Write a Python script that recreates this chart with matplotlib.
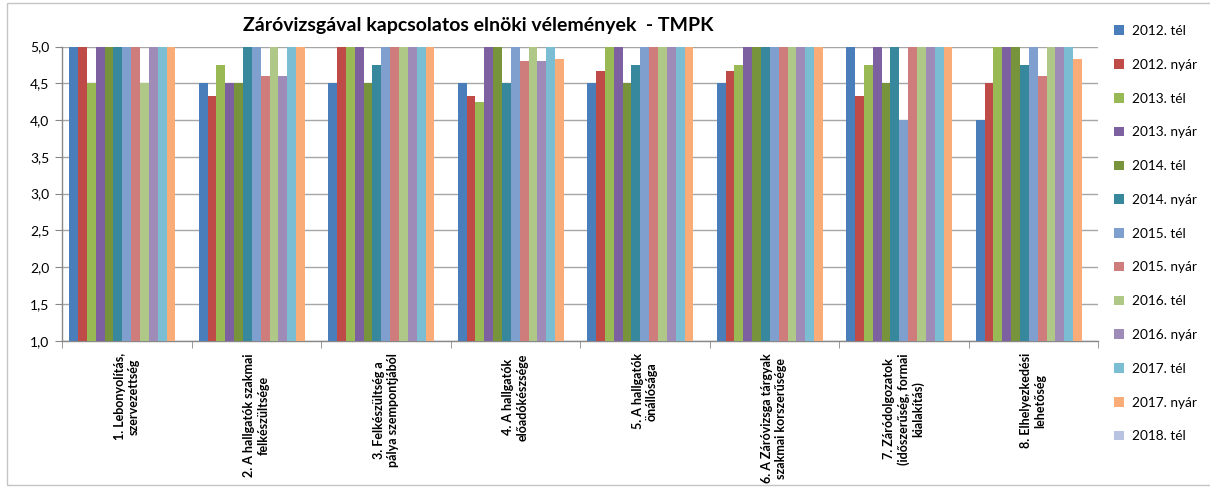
import numpy as np
import matplotlib
matplotlib.use("Agg")
import matplotlib.pyplot as plt
from matplotlib.patches import Rectangle, Patch

plt.rcParams['font.family'] = ['Lato', 'DejaVu Sans']

categories = [
    "1. Lebonyolítás,\nszervezettség",
    "2. A hallgatók szakmai\nfelkészültsége",
    "3. Felkészültség a\npálya szempontjából",
    "4. A hallgatók\nelőadókészsége",
    "5. A hallgatók\nönállósága",
    "6. A Záróvizsga tárgyak\nszakmai korszerűsége",
    "7. Záródolgozatok\n(időszerűség, formai\nkialakítás)",
    "8. Elhelyezkedési\nlehetőség",
]

series_names = ["2012. tél", "2012. nyár", "2013. tél", "2013. nyár", "2014. tél",
                "2014. nyár", "2015. tél", "2015. nyár", "2016. tél", "2016. nyár",
                "2017. tél", "2017. nyár", "2018. tél"]

s2012_tel = [5.0, 4.5, 4.5, 4.5, 4.5, 4.5, 5.0, 4.0]
s2012_nyar = [5.0, 4.33, 5.0, 4.33, 4.67, 4.67, 4.33, 4.5]
s2013_tel = [4.5, 4.75, 5.0, 4.25, 5.0, 4.75, 4.75, 5.0]
s2013_nyar = [5.0, 4.5, 5.0, 5.0, 5.0, 5.0, 5.0, 5.0]
s2014_tel = [5.0, 4.5, 4.5, 5.0, 4.5, 5.0, 4.5, 5.0]
s2014_nyar = [5.0, 5.0, 4.75, 4.5, 4.75, 5.0, 5.0, 4.75]
s2015_tel = [5.0, 5.0, 5.0, 5.0, 5.0, 5.0, 4.0, 5.0]
s2015_nyar = [5.0, 4.6, 5.0, 4.8, 5.0, 5.0, 5.0, 4.6]
s2016_tel = [4.5, 5.0, 5.0, 5.0, 5.0, 5.0, 5.0, 5.0]
s2016_nyar = [5.0, 4.6, 5.0, 4.8, 5.0, 5.0, 5.0, 5.0]
s2017_tel = [5.0, 5.0, 5.0, 5.0, 5.0, 5.0, 5.0, 5.0]
s2017_nyar = [5.0, 5.0, 5.0, 4.83, 5.0, 5.0, 5.0, 4.83]
s2018_tel = [np.nan] * 8

all_series = [s2012_tel, s2012_nyar, s2013_tel, s2013_nyar, s2014_tel, s2014_nyar,
              s2015_tel, s2015_nyar, s2016_tel, s2016_nyar, s2017_tel, s2017_nyar,
              s2018_tel]

colors = ['#4A7EBB', '#BE4B48', '#98B954', '#7D60A0', '#77933C', '#37879D',
          '#7F9FCE', '#CF7D7C', '#AFC888', '#9E8BB7', '#7BBDD3', '#F9AB78',
          '#B7C3E0']

W, H = 1210, 487
fig = plt.figure(figsize=(W / 100, H / 100), dpi=100)

# chart border
fig.patches.append(Rectangle((7 / W, 1 - 485 / H), (1215 - 7) / W, (485 - 3) / H,
                             transform=fig.transFigure, fill=False,
                             edgecolor='#C4C4C4', linewidth=1.0))

ax = fig.add_axes([62 / W, 1 - 340.7 / H, (1098 - 62) / W, (340.7 - 46.5) / H])

n = len(all_series)
bw = 1 / 14.65
x = np.arange(len(categories))
for j, (vals, c) in enumerate(zip(all_series, colors)):
    ax.bar(x + (j - (n - 1) / 2) * bw, vals, width=bw, bottom=0,
           color=c, linewidth=0, zorder=3)

ax.set_xlim(-0.5, len(categories) - 0.5)
ax.set_ylim(1.0, 5.0)
yt = np.arange(1.0, 5.01, 0.5)
ax.set_yticks(yt)
ax.set_yticklabels([f"{v:.1f}".replace('.', ',') for v in yt], fontsize=10)
ax.yaxis.grid(True, color='#A6A6A6', linewidth=1.0, zorder=0)
ax.set_axisbelow(True)

ax.set_xticks(x)
ax.set_xticklabels(categories, rotation=90, fontsize=9.0, fontweight='bold',
                   multialignment='center')
ax.set_xticks(np.arange(-0.5, len(categories) + 0.5, 1.0), minor=True)
ax.tick_params(axis='x', which='major', length=0, pad=9)
ax.tick_params(axis='x', which='minor', length=5, color='#888888')
ax.tick_params(axis='y', length=5, color='#888888', pad=4)

for s in ['top', 'right']:
    ax.spines[s].set_visible(False)
for s in ['left', 'bottom']:
    ax.spines[s].set_color('#888888')
    ax.spines[s].set_linewidth(1.0)

fig.text(478 / W, 1 - 25 / H, "Záróvizsgával kapcsolatos elnöki vélemények  - TMPK",
         ha='center', va='center', fontsize=14, fontweight='bold')

handles = [Patch(facecolor=c, edgecolor='none') for c in colors]
fig.legend(handles, series_names, loc='upper left',
           bbox_to_anchor=(1114 / W, 1 - 25 / H), frameon=False, fontsize=9.8,
           handlelength=0.7, handleheight=0.7, handletextpad=0.6,
           labelspacing=1.6, borderaxespad=0, borderpad=0)

fig.savefig("out.png", dpi=100)
